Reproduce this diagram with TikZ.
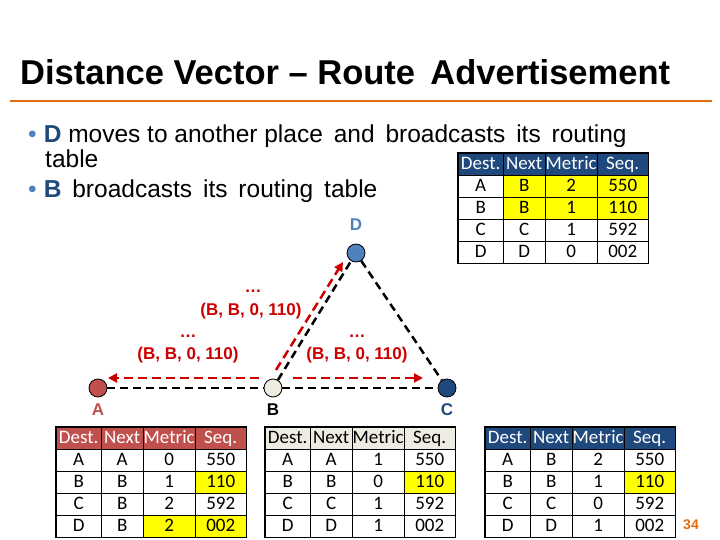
\documentclass[tikz,border=0pt]{standalone}
\usepackage{fontspec}
\setmainfont{Liberation Sans}
\newfontfamily\tblfont{Carlito}
\usetikzlibrary{matrix,calc,arrows.meta}
\definecolor{ared}{RGB}{192,80,77}
\definecolor{bbeige}{RGB}{238,236,225}
\definecolor{cblue}{RGB}{31,73,125}
\definecolor{dblue}{RGB}{79,129,189}
\definecolor{orng}{RGB}{228,108,10}
\definecolor{bred}{RGB}{204,0,0}
\definecolor{ylw}{RGB}{255,255,0}
\tikzset{
  rt/.style={matrix of nodes, draw=black, line width=1.6pt, inner sep=0pt,
    row sep=-0.8pt, column sep=-0.8pt,
    nodes={draw=black, line width=0.8pt, minimum height=22pt, inner sep=0pt,
      text height=13pt, text depth=3pt,
      font=\tblfont\fontsize{19}{19}\selectfont, anchor=center},
    column 1/.style={nodes={minimum width=45pt}},
    column 2/.style={nodes={minimum width=42pt}},
    column 3/.style={nodes={minimum width=52pt}},
    column 4/.style={nodes={minimum width=51pt}}},
  hd/.style={fill=#1},
  hl/.style={fill=ylw},
  rnode/.style={circle, draw=black, line width=0.8pt, minimum size=18pt, inner sep=0pt},
  nlab/.style={font=\bfseries\fontsize{17}{17}\selectfont},
  link/.style={dashed, line width=2.5pt, dash pattern=on 8pt off 5pt},
  adv/.style={bred, line width=2.5pt, dash pattern=on 9pt off 5pt, -{Triangle[length=9pt,width=9pt]}},
  advlab/.style={bred, font=\bfseries\fontsize{17}{17}\selectfont},
  btxt/.style={anchor=base west, inner sep=0, font=\fontsize{24.5}{24.5}\selectfont},
}
\begin{document}
\begin{tikzpicture}[x=1pt,y=-1pt]
\useasboundingbox (0,0) rectangle (720,540);
\node[anchor=base west, font=\bfseries\fontsize{34.5}{34.5}\selectfont, inner sep=0] (title) at (20,85) {Distance Vector -- Route\, Advertisement};
\draw[orng, line width=1.5pt] (10,101) -- (712,101);
\node[btxt] (b1) at (28,143)
 {\textcolor{dblue}{\textbullet}\hspace{7pt}\textcolor{cblue}{\textbf{D}} moves to another place\, and\, broadcasts\, its\, routing};
\node[btxt] (b1b) at (45,168) {table};
\node[btxt] (b2) at (28,198)
 {\textcolor{dblue}{\textbullet}\hspace{7pt}\textcolor{cblue}{\textbf{B}}\, broadcasts\, its\, routing\, table};

% routers
\node[rnode, fill=ared] (A) at (98,388) {};
\node[rnode, fill=bbeige] (B) at (273,388) {};
\node[rnode, fill=cblue] (C) at (447,388) {};
\node[rnode, fill=dblue] (D) at (356,253) {};
\node[nlab, ared] (Al) at (98,410) {A};
\node[nlab] (Bl) at (273,410) {B};
\node[nlab, cblue] (Cl) at (447,410) {C};
\node[nlab, dblue] (Dl) at (356,225) {D};

\draw[link] (A) -- (B);
\draw[link] (B) -- (C);
\draw[link] (B) -- (D);
\draw[link] (D) -- (C);

\draw[adv] ($(B)+(-14,-10)$) -- ($(A)+(10,-10)$);
\draw[adv] ($(B)+(20,-10)$) -- ($(C)+(-24,-10)$);
\draw[adv] ($(B)+(3,-18)$) -- ($(D)+(-13,9)$);

\node[advlab] (l1) at (251,311) {(B, B, 0, 110)};
\node[advlab] (d1) at (253,291) {\dots};
\node[advlab] (l2) at (188,355) {(B, B, 0, 110)};
\node[advlab] (d2) at (188,336) {\dots};
\node[advlab] (l3) at (357,355) {(B, B, 0, 110)};
\node[advlab] (d3) at (357,336) {\dots};

% tables
\matrix[rt, anchor=north west] (TD) at (457,152) {
 |[hd=cblue,text=white]|Dest. & |[hd=cblue,text=white]|Next & |[hd=cblue,text=white]|Metric & |[hd=cblue,text=white]|Seq. \\
 A & |[hl]|B & |[hl]|2 & |[hl]|550 \\
 B & |[hl]|B & |[hl]|1 & |[hl]|110 \\
 C & C & 1 & 592 \\
 D & D & 0 & 002 \\
};
\matrix[rt, anchor=north west] (TA) at (55,426) {
 |[hd=ared,text=white]|Dest. & |[hd=ared,text=white]|Next & |[hd=ared,text=white]|Metric & |[hd=ared,text=white]|Seq. \\
 A & A & 0 & 550 \\
 B & B & 1 & |[hl]|110 \\
 C & B & 2 & 592 \\
 D & B & |[hl]|2 & |[hl]|002 \\
};
\matrix[rt, anchor=north west] (TB) at (264,426) {
 |[hd=bbeige]|Dest. & |[hd=bbeige]|Next & |[hd=bbeige]|Metric & |[hd=bbeige]|Seq. \\
 A & A & 1 & 550 \\
 B & B & 0 & |[hl]|110 \\
 C & C & 1 & 592 \\
 D & D & 1 & 002 \\
};
\matrix[rt, anchor=north west] (TC) at (484,426) {
 |[hd=cblue,text=white]|Dest. & |[hd=cblue,text=white]|Next & |[hd=cblue,text=white]|Metric & |[hd=cblue,text=white]|Seq. \\
 A & B & 2 & 550 \\
 B & B & 1 & |[hl]|110 \\
 C & C & 0 & 592 \\
 D & D & 1 & 002 \\
};
\node[orng, font=\bfseries\fontsize{14}{14}\selectfont] (pg) at (691,525) {34};
\end{tikzpicture}
\end{document}
